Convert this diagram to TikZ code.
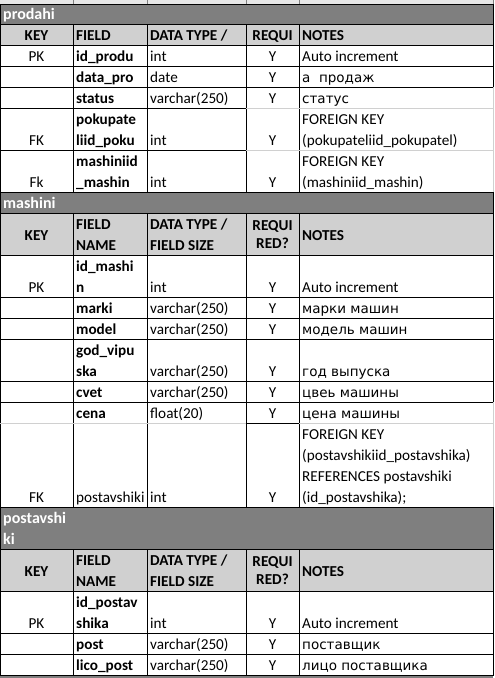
\documentclass[tikz,border=0pt]{standalone}
\usepackage{fontspec}
\setmainfont{Carlito}
\newfontfamily\rusfont{DejaVu Sans}
\newcommand{\rus}[1]{{\rusfont\fontsize{13.5}{21}\selectfont #1}}
\definecolor{titlegray}{HTML}{7F7F7F}
\definecolor{headgray}{HTML}{D0D0D0}
\definecolor{stripgray}{HTML}{E6E6E6}
\definecolor{gridgray}{HTML}{D0D0D0}

\begin{document}
\begin{tikzpicture}[x=1pt, y=-1pt,
    every node/.style={inner sep=0pt, font=\fontsize{15.2}{21}\selectfont,
        execute at end node={\rule[-4pt]{0pt}{4pt}}},
    centertext/.style={anchor=south},
    lefttext/.style={anchor=south west, align=left},
    boldtext/.style={lefttext, font=\fontsize{15.2}{21}\selectfont\bfseries},
    headtext/.style={centertext, font=\fontsize{15.2}{21}\selectfont\bfseries},
    titletext/.style={lefttext, text=white, font=\fontsize{16}{21}\selectfont\bfseries},
    cellbox/.style={draw=black, line width=1pt},
    gridline/.style={draw=gridgray, line width=1pt}
    ]
    \useasboundingbox (0,0) rectangle (495,678);
    \fill[white] (0,0) rectangle (495,678);
    \fill[stripgray] (0,0) rectangle (493,4);
    \foreach \cx in {73,147,246,299,493}
        \draw[gray, line width=1pt] (\cx,0) -- (\cx,4);
    \foreach \nm/\ya/\yb/\txt in {prodahi/4/24/prodahi, mashini/192/213/mashini,
        postavshiki/507/549/postavshi\\ki}{
        \fill[titlegray] (0,\ya) rectangle (493,\yb);
        \draw[cellbox] (0,\ya) rectangle (493,\yb);
        \node[titletext] (\nm-title) at (3,\yb) {\txt};
    }
    \fill[headgray] (0,24) rectangle (493,45);
    \draw[cellbox] (0,24) rectangle (493,45);
    \foreach \cx in {73,147,246,299}
        \draw[cellbox] (\cx,24) -- (\cx,45);
    \node[headtext] (prodahi-key) at (36.5,45) {KEY};
    \node[boldtext] (prodahi-field) at (76,45) {FIELD};
    \node[boldtext] (prodahi-type) at (150,45) {DATA TYPE /};
    \node[headtext] (prodahi-req) at (272.5,45) {REQUI};
    \node[boldtext] (prodahi-notes) at (302,45) {NOTES};
    \foreach \nm/\ya in {mashini/213, postavshiki/549}{
        \fill[headgray] (0,\ya) rectangle (493,\ya+42);
        \draw[cellbox] (0,\ya) rectangle (493,\ya+42);
        \foreach \cx in {73,147,246,299}
            \draw[cellbox] (\cx,\ya) -- (\cx,\ya+42);
        \node[headtext] (\nm-key) at (36.5,\ya+31.5) {KEY};
        \node[boldtext] (\nm-field) at (76,\ya+42) {FIELD\\NAME};
        \node[boldtext] (\nm-type) at (150,\ya+42) {DATA TYPE /\\FIELD SIZE};
        \node[headtext, align=center, font=\fontsize{15.2}{18}\selectfont\bfseries]
            (\nm-req) at (272.5,\ya+40) {REQUI\\RED?};
        \node[boldtext] (\nm-notes) at (302,\ya+31.5) {NOTES};
    }
    \foreach \nm/\ya/\yb/\k/\f/\t/\r/\n in {
        pid/45/66/PK/id\_produ/int/Y/Auto increment,
        pdata/66/87/{}/data\_pro/date/Y/\rus{а~~продаж},
        pstatus/87/108/{}/status/varchar(250)/Y/\rus{статус},
        pfkpok/108/150/FK/pokupate\\liid\_poku/int/Y/FOREIGN KEY\\(pokupateliid\_pokupatel),
        pfkmash/150/192/Fk/mashiniid\\\_mashin/int/Y/FOREIGN KEY\\(mashiniid\_mashin),
        mid/255/297/PK/id\_mashi\\n/int/Y/Auto increment,
        mmarki/297/318/{}/marki/varchar(250)/Y/\rus{марки машин},
        mmodel/318/339/{}/model/varchar(250)/Y/\rus{модель машин},
        mgod/339/381/{}/god\_vipu\\ska/varchar(250)/Y/\rus{год выпуска},
        mcvet/381/402/{}/cvet/varchar(250)/Y/\rus{цвеь машины},
        mcena/402/423/{}/cena/float(20)/Y/\rus{цена машины},
        mfkpost/423/507/FK/{\mdseries postavshiki}/int/Y/FOREIGN KEY\\(postavshikiid\_postavshika)\\REFERENCES postavshiki\\(id\_postavshika);,
        sid/591/633/PK/id\_postav\\shika/int/Y/Auto increment,
        spost/633/654/{}/post/varchar(250)/Y/\rus{поставщик},
        slico/654/675/{}/lico\_post/varchar(250)/Y/\rus{лицо поставщика}}{
        \draw[cellbox] (0,\ya) rectangle (493,\yb);
        \foreach \cx in {73,147,246,299}
            \draw[cellbox] (\cx,\ya) -- (\cx,\yb);
        \node[centertext] (\nm-k) at (36.5,\yb) {\k};
        \node[boldtext] (\nm-f) at (76,\yb) {\f};
        \node[lefttext] (\nm-t) at (150,\yb) {\t};
        \node[centertext] (\nm-r) at (272.5,\yb) {\r};
        \node[lefttext] (\nm-n) at (302,\yb) {\n};
    }
    \draw[gridline] (246,108) -- (493,108);
    \draw[gridline] (246,150) -- (493,150);
    \draw[gridline] (493,87) -- (493,192);
    \draw[gridline] (0,423) -- (246,423);
    \draw[gridline] (299,423) -- (493,423);
    \draw[gridline] (493,402) -- (493,507);
    \fill[titlegray] (0,675) rectangle (493,678);
    \draw[cellbox] (0,675) -- (493,675);
\end{tikzpicture}
\end{document}
